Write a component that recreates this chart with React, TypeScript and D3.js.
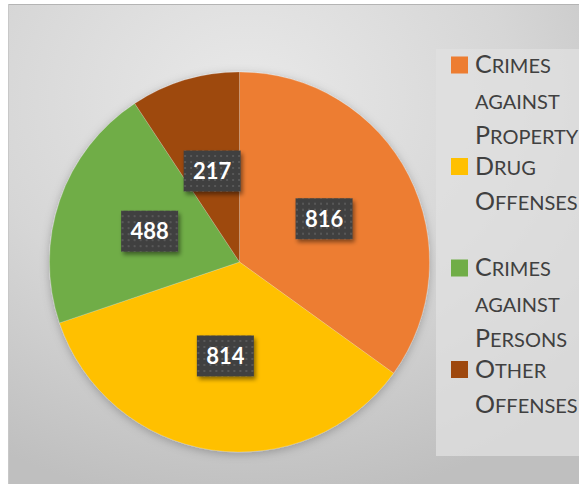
import React from "react";
import * as d3 from "d3";

const categories = ["Crimes against Property", "Drug Offenses", "Crimes against Persons", "Other Offenses"];
const values = [816, 814, 488, 217];
const colors = ["#ED7D31", "#FFC000", "#70AD47", "#9E480E"];

const W = 579;
const H = 484;

function smallCapsWord(word: string, big: number, small: number) {
  const parts: { t: string; s: number }[] = [];
  for (const ch of word) {
    const isUpper = ch === ch.toUpperCase() && ch !== ch.toLowerCase();
    parts.push({ t: ch.toUpperCase(), s: isUpper ? big : small });
  }
  const merged: { t: string; s: number }[] = [];
  parts.forEach((p) => {
    const last = merged[merged.length - 1];
    if (last && last.s === p.s) last.t += p.t;
    else merged.push({ ...p });
  });
  return merged;
}

export default function App() {
  const cx = 239.5;
  const cy = 262;
  const r = 190;
  const pie = d3.pie<number>().sort(null).value((d) => d);
  const arcs = pie(values);
  const arcGen = d3.arc<d3.PieArcDatum<number>>().innerRadius(0).outerRadius(r);
  const labelArc = d3.arc<d3.PieArcDatum<number>>().innerRadius(r / 2).outerRadius(r / 2);

  const legendX = 451;
  const legendY0 = 65;
  const legendStep = 101.5;
  const lineStep = 35.5;

  return (
    <svg width={W} height={H} style={{ position: "absolute", left: 0, top: 0 }}>
      <defs>
        <radialGradient id="bg" cx="0.42" cy="0.2" r="0.85">
          <stop offset="0" stopColor="#e9e9e9" />
          <stop offset="0.55" stopColor="#d6d6d6" />
          <stop offset="1" stopColor="#bfbfbf" />
        </radialGradient>
        <pattern id="dots" width="6" height="6" patternUnits="userSpaceOnUse">
          <rect width="6" height="6" fill="#3f3f3f" />
          <rect x="2" y="2" width="2" height="2" fill="#595959" />
        </pattern>
        <filter id="boxShadow" x="-20%" y="-20%" width="150%" height="160%">
          <feDropShadow dx="2" dy="3" stdDeviation="2" floodColor="#000" floodOpacity="0.45" />
        </filter>
        <filter id="pieShadow" x="-20%" y="-20%" width="140%" height="140%">
          <feDropShadow dx="0" dy="2" stdDeviation="5" floodColor="#000" floodOpacity="0.25" />
        </filter>
      </defs>
      <rect x={0} y={0} width={W} height={H} fill="#ffffff" />
      <rect x={8} y={4} width={W - 8} height={H - 4} fill="url(#bg)" />
      <line x1={8} y1={4.5} x2={W} y2={4.5} stroke="#b4b4b4" strokeWidth={1} />
      <line x1={8.5} y1={4} x2={8.5} y2={H} stroke="#c8c8c8" strokeWidth={1} />

      <g transform={`translate(${cx},${cy})`} filter="url(#pieShadow)">
        {arcs.map((a, i) => (
          <path key={i} d={arcGen(a) || ""} fill={colors[i]} stroke="#ffffff" strokeOpacity={0.25} strokeWidth={0.75} />
        ))}
      </g>

      <g transform={`translate(${cx},${cy})`}>
        {arcs.map((a, i) => {
          const [lx, ly] = labelArc.centroid(a);
          const bw = 57;
          const bh = 41;
          return (
            <g key={i} transform={`translate(${lx},${ly})`}>
              <rect x={-bw / 2} y={-bh / 2} width={bw} height={bh} fill="url(#dots)" filter="url(#boxShadow)" />
              <text
                x={0}
                y={8}
                textAnchor="middle"
                fill="#ffffff"
                fontFamily="Lato, 'Open Sans', sans-serif"
                fontWeight={700}
                fontSize={22}
              >
                {values[i]}
              </text>
            </g>
          );
        })}
      </g>

      <rect x={436} y={49} width={W - 436} height={407} fill="#e0e0e0" fillOpacity={0.75} />
      {categories.map((c, i) => {
        const y0 = legendY0 + legendStep * i;
        const words = c.split(" ");
        return (
          <g key={c}>
            <rect x={legendX} y={y0 - 8.5} width={17} height={17} fill={colors[i]} />
            {words.map((w, j) => (
              <text
                key={j}
                x={475}
                y={y0 + 8 + j * lineStep}
                fill="#404040"
                fontFamily="Lato, 'Open Sans', sans-serif"
              >
                {smallCapsWord(w, 25, 20).map((p, k) => (
                  <tspan key={k} fontSize={p.s}>
                    {p.t}
                  </tspan>
                ))}
              </text>
            ))}
          </g>
        );
      })}
    </svg>
  );
}
